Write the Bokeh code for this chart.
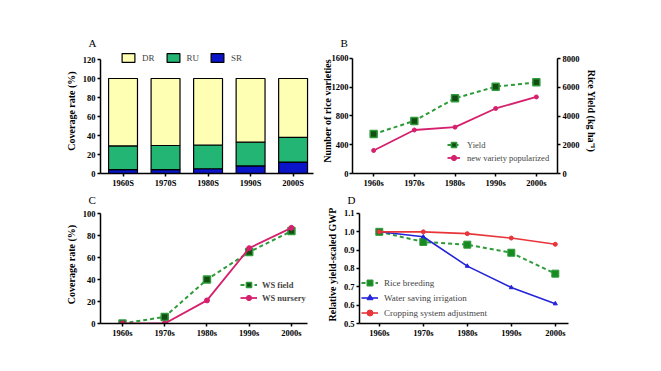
from bokeh.plotting import figure
from bokeh.layouts import row
from bokeh.models import Range1d, LinearAxis, FixedTicker, Legend, LegendItem, ColumnDataSource
from bokeh.embed import file_html
from bokeh.resources import INLINE

# ---------------- data ----------------
decades_A = ["1960S", "1970S", "1980S", "1990S", "2000S"]
decades = ["1960s", "1970s", "1980s", "1990s", "2000s"]
sr = [4, 4, 5, 8, 12]
ru = [25, 25.5, 25, 25, 26]
dr = [71, 70.5, 70, 67, 62]

yield_b = [2740, 3660, 5230, 6040, 6340]
variety_b = [320, 605, 645, 905, 1065]

ws_field = [0, 6, 40, 65, 84]
ws_nursery = [0, 0, 21, 68.5, 87]

rice_breeding = [1.0, 0.945, 0.93, 0.886, 0.772]
water_saving = [1.0, 0.973, 0.813, 0.696, 0.608]
cropping_adj = [1.0, 1.0, 0.99, 0.966, 0.932]

ticks_A = [0, 20, 40, 60, 80, 100, 120]
ticks_B = [0, 400, 800, 1200, 1600]
ticks_BR = [0, 2000, 4000, 6000, 8000]
ticks_C = [0, 20, 40, 60, 80, 100]
ticks_D = [0.5, 0.6, 0.7, 0.8, 0.9, 1.0, 1.1]

FONT = "Liberation Serif"
TICK_FS = "8.5px"
LAB_FS = "10px"
idx = list(range(len(decades)))


def style_axis(ax):
    ax.axis_line_width = 1.5
    ax.axis_line_color = "black"
    ax.major_tick_line_width = 1.5
    ax.major_tick_line_color = "black"
    ax.major_tick_out = 3
    ax.major_tick_in = 0
    ax.minor_tick_line_color = None
    ax.major_label_text_font = FONT
    ax.major_label_text_font_style = "bold"
    ax.major_label_text_font_size = TICK_FS
    ax.major_label_text_color = "black"
    ax.major_label_standoff = 2
    ax.axis_label_text_font = FONT
    ax.axis_label_text_font_style = "bold"
    ax.axis_label_text_font_size = LAB_FS
    ax.axis_label_text_color = "black"
    ax.axis_label_standoff = 3


def make_fig(w, h, bl, br, bt, bb, xr, yr, letter, offset):
    p = figure(width=w, height=h, output_backend="svg", toolbar_location=None,
               x_range=Range1d(*xr), y_range=Range1d(*yr),
               min_border_left=bl, min_border_right=br, min_border_top=bt, min_border_bottom=bb)
    p.outline_line_color = None
    p.xgrid.grid_line_color = None
    p.ygrid.grid_line_color = None
    p.background_fill_color = "white"
    p.border_fill_color = "white"
    p.title.text = letter
    p.title.align = "left"
    p.title.offset = offset
    p.title.standoff = 0
    p.title.text_font = FONT
    p.title.text_font_style = "normal"
    p.title.text_font_size = "11px"
    p.title.text_color = "black"
    return p


def set_xcats(p, labels):
    p.xaxis.ticker = FixedTicker(ticks=idx)
    p.xaxis.major_label_overrides = {i: l for i, l in enumerate(labels)}
    style_axis(p.xaxis[0])
    p.xaxis.major_label_standoff = 1


def set_y(p, ticks, label):
    p.yaxis.ticker = FixedTicker(ticks=ticks)
    p.yaxis.bounds = (ticks[0], ticks[-1])
    style_axis(p.yaxis[0])
    p.yaxis.axis_label = label


def legend_style(lg, gw, gh, standoff, fs, bold=False):
    lg.background_fill_alpha = 0
    lg.border_line_alpha = 0
    lg.padding = 0
    lg.margin = 0
    lg.spacing = 0
    lg.glyph_width = gw
    lg.glyph_height = gh
    lg.label_standoff = standoff
    lg.label_text_font = FONT
    lg.label_text_font_size = fs
    lg.label_text_font_style = "bold" if bold else "normal"
    lg.label_height = gh
    lg.label_width = 5


TOP1, BOT1, H1 = 48, 17, 190
TOP2, BOT2, H2 = 15, 32, 165

# ---------------- Panel A ----------------
pA = make_fig(314, H1, 100, 1, TOP1, BOT1, (-0.53, 4.48), (0, 131.6), "A", -12)
set_y(pA, ticks_A, "Coverage rate (%)")
set_xcats(pA, decades_A)
srcA = ColumnDataSource(dict(x=idx, sr=sr, ru=ru, dr=dr))
rA = pA.vbar_stack(["sr", "ru", "dr"], x="x", width=0.68, source=srcA,
                   color=["#0a14c8", "#22b573", "#ffffb3"], line_color="black", line_width=1.2)
lgA = Legend(items=[LegendItem(label="DR", renderers=[rA[2]]),
                    LegendItem(label="RU", renderers=[rA[1]]),
                    LegendItem(label="SR", renderers=[rA[0]])],
             orientation="horizontal", location=(20, 110))
legend_style(lgA, 16, 11, 6, "9px")
lgA.spacing = 10
pA.add_layout(lgA, "center")

# ---------------- Panel B ----------------
pB = make_fig(339, H1, 38, 96, TOP1, BOT1, (-0.52, 4.52), (0, 1739), "B", -12)
set_y(pB, ticks_B, "Number of rice varieties")
pB.yaxis.axis_label_standoff = -4
pB.yaxis.major_label_standoff = 1
pB.extra_y_ranges = {"yld": Range1d(0, 8696)}
axR = LinearAxis(y_range_name="yld", ticker=FixedTicker(ticks=ticks_BR),
                 bounds=(ticks_BR[0], ticks_BR[-1]),
                 axis_label="Rice Yield (kg ha\u207b\u00b9)")
style_axis(axR)
pB.add_layout(axR, "right")
set_xcats(pB, decades)
GREEN = "#2e9a3a"
l1 = pB.line(idx, yield_b, y_range_name="yld", line_color=GREEN, line_width=2, line_dash="4 3")
m1 = pB.scatter(idx, yield_b, y_range_name="yld", marker="square", size=7,
                fill_color="#124d12", line_color=GREEN, line_width=1.5)
PINK = "#d6206e"
l2 = pB.line(idx, variety_b, line_color=PINK, line_width=1.8)
m2 = pB.scatter(idx, variety_b, marker="circle", size=4, fill_color=PINK, line_color=PINK)
lgB = Legend(items=[LegendItem(label="Yield", renderers=[l1, m1]),
                    LegendItem(label="new variety popularized", renderers=[l2, m2])],
             location=(95, 9))
legend_style(lgB, 13, 13, 7, "8.5px")
pB.add_layout(lgB, "center")

# ---------------- Panel C ----------------
pC = make_fig(314, H2, 100, 7, TOP2, BOT2, (-0.52, 4.38), (0, 107.3), "C", -12)
set_y(pC, ticks_C, "Coverage rate (%)")
set_xcats(pC, decades)
c1 = pC.line(idx, ws_field, line_color=GREEN, line_width=2, line_dash="4 3")
cm1 = pC.scatter(idx, ws_field, marker="square", size=7, fill_color="#124d12",
                 line_color=GREEN, line_width=1.5)
c2 = pC.line(idx, ws_nursery, line_color=PINK, line_width=1.8)
cm2 = pC.scatter(idx, ws_nursery, marker="circle", size=5, fill_color=PINK, line_color=PINK)
lgC = Legend(items=[LegendItem(label="WS field", renderers=[c1, cm1]),
                    LegendItem(label="WS nursery", renderers=[c2, cm2])],
             location=(140, 19))
legend_style(lgC, 17, 13, 5, "8.5px", bold=True)
pC.add_layout(lgC, "center")

# ---------------- Panel D ----------------
pD = make_fig(339, H2, 45, 85, TOP2, BOT2, (-0.45, 4.3), (0.5, 1.1436), "D", -12)
set_y(pD, ticks_D, "Relative yield-scaled GWP")
pD.yaxis.major_label_overrides = {t: f"{t:.1f}" for t in ticks_D}
set_xcats(pD, decades)
d1 = pD.line(idx, rice_breeding, line_color=GREEN, line_width=2, line_dash="4 3")
dm1 = pD.scatter(idx, rice_breeding, marker="square", size=7, fill_color="#178a22",
                 line_color=GREEN, line_width=1)
BLUE = "#2323d8"
d2 = pD.line(idx, water_saving, line_color=BLUE, line_width=1.6)
dm2 = pD.scatter(idx, water_saving, marker="triangle", size=4, fill_color=BLUE, line_color=BLUE)
RED = "#e8353a"
d3 = pD.line(idx, cropping_adj, line_color=RED, line_width=1.6)
dm3 = pD.scatter(idx, cropping_adj, marker="circle", size=4, fill_color=RED, line_color=RED)
lgD = Legend(items=[LegendItem(label="Rice breeding", renderers=[d1, dm1]),
                    LegendItem(label="Water saving irrigation", renderers=[d2, dm2]),
                    LegendItem(label="Cropping system adjustment", renderers=[d3, dm3])],
             location=(2, 3))
legend_style(lgD, 17, 15, 6, "9px")
pD.add_layout(lgD, "center")

top_row = row(pA, pB)
bottom_row = row(pC, pD)
open("out.html", "w").write(file_html([top_row, bottom_row], INLINE))
